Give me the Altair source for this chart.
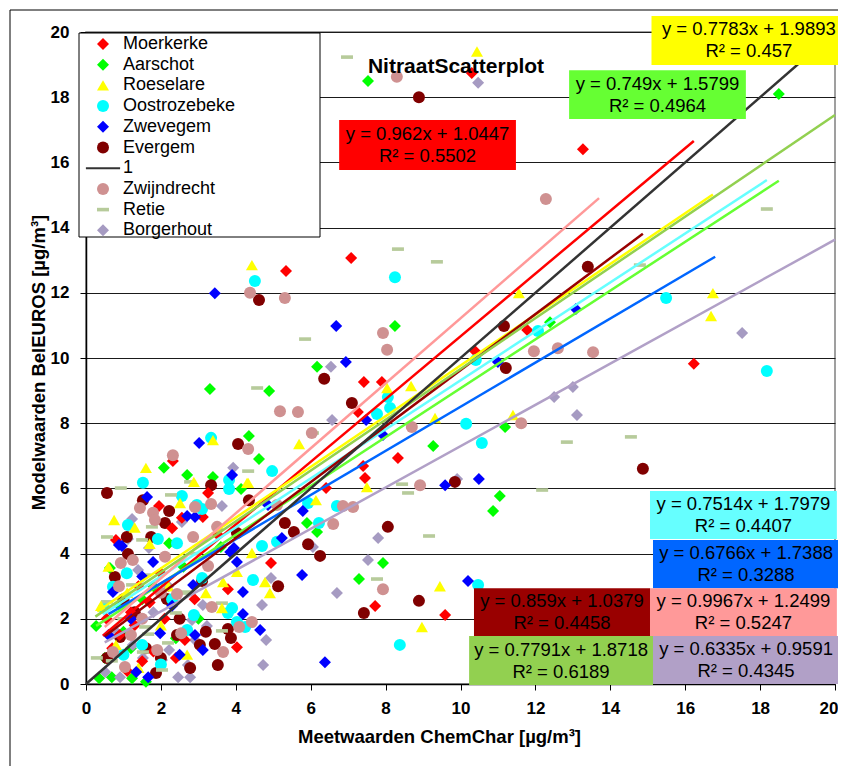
import altair as alt
import pandas as pd

# ---------------- data ----------------
SERIES = ["Moerkerke", "Aarschot", "Roeselare", "Oostrozebeke", "Zwevegem",
          "Evergem", "1", "Zwijndrecht", "Retie", "Borgerhout"]

moerkerke_x = [10.3, 13.27, 7.08, 5.34, 7.42, 7.9, 7.26, 8.33, 11.78, 10.39, 16.23, 9.59, 7.72, 7.4, 7.45,
               6.41, 4.94, 3.79, 4.03, 3.26, 3.12, 2.3, 1.95, 2.32, 0.8, 2.64, 2.56, 0.9, 1.2, 1.5, 1.8,
               2.1, 1.4, 0.7, 2.4, 1.1, 2.9, 1.7, 0.55, 3.5, 2.0, 1.3]
moerkerke_y = [18.74, 16.4, 13.07, 12.67, 9.26, 9.26, 8.34, 6.93, 10.86, 10.21, 9.82, 2.12, 2.39, 6.69, 6.32,
               6.01, 3.71, 2.91, 1.13, 5.86, 5.12, 4.78, 5.46, 6.84, 4.42, 1.35, 5.1, 1.5, 2.2, 0.7, 1.0,
               2.0, 3.0, 1.1, 0.8, 0.4, 2.6, 2.5, 2.0, 4.6, 3.4, 1.8]

aarschot_x = [7.53, 18.5, 8.25, 6.17, 3.31, 4.89, 4.35, 4.62, 9.27, 12.39, 11.19, 11.05, 10.87, 7.93, 7.29,
              6.17, 4.14, 3.39, 2.7, 2.08, 0.64, 0.27, 0.35, 0.69, 1.23, 1.6, 2.22, 5.9, 1.0, 1.5, 2.4,
              0.9, 1.8, 2.6, 3.6, 1.2, 0.5, 3.0]
aarschot_y = [18.5, 18.1, 10.98, 9.73, 9.05, 8.99, 7.61, 6.9, 7.3, 11.1, 7.88, 5.77, 5.31, 3.71, 3.22,
              4.66, 5.98, 6.35, 6.41, 6.63, 3.56, 1.78, 0.18, 0.21, 0.18, 0.07, 4.32, 4.94, 1.6, 2.6, 1.4,
              2.4, 3.0, 3.6, 4.2, 1.1, 0.8, 2.0]

roeselare_x = [10.44, 4.43, 8.68, 8.04, 9.32, 5.69, 3.39, 11.56, 16.74, 16.69, 11.4, 9.45, 8.97, 7.5, 6.14,
               4.3, 4.43, 4.78, 4.91, 4.03, 3.66, 3.2, 3.63, 1.6, 0.75, 2.51, 2.88, 4.33, 1.1, 0.8, 1.4,
               2.0, 2.2, 0.6, 1.7, 2.7, 0.4, 1.3]
roeselare_y = [19.4, 12.85, 9.14, 9.08, 8.16, 7.36, 7.48, 11.99, 11.99, 11.29, 8.25, 3.0, 1.75, 6.04, 5.64,
               6.17, 4.02, 3.13, 2.79, 3.44, 3.13, 2.79, 2.33, 6.63, 5.03, 5.55, 6.2, 6.17, 2.8, 1.2, 0.5,
               1.8, 3.0, 3.6, 4.3, 0.9, 2.4, 4.8]

oostrozebeke_x = [4.51, 8.25, 8.06, 8.12, 7.77, 3.34, 15.49, 18.18, 12.07, 10.41, 10.15, 10.57, 10.47, 8.38,
                  6.7, 6.22, 5.93, 4.97, 4.7, 5.1, 4.46, 3.79, 3.9, 4.03, 3.82, 3.82, 1.52, 2.96, 2.56, 2.43,
                  2.88, 2.7, 0.72, 1.09, 0.48, 1.12, 1.92, 3.1, 4.25, 3.1, 1.5, 2.0, 1.0, 2.3]
oostrozebeke_y = [12.36, 12.48, 8.8, 8.47, 8.28, 7.55, 11.84, 9.6, 10.83, 9.94, 7.98, 7.39, 3.04, 1.2,
                  5.46, 4.94, 5.55, 6.53, 4.23, 4.36, 3.19, 2.18, 2.33, 1.9, 5.98, 6.26, 6.17, 5.49, 5.77, 4.32,
                  2.12, 1.66, 2.98, 3.4, 2.33, 4.88, 4.45, 5.37, 1.75, 3.25, 1.2, 0.6, 0.9, 2.6]

zwevegem_x = [3.44, 6.68, 6.94, 7.48, 7.93, 3.02, 13.08, 11.0, 9.59, 10.49, 10.2, 6.38, 5.79, 5.23, 5.77,
              4.65, 4.19, 4.19, 4.03, 3.95, 3.85, 2.86, 3.9, 1.79, 0.96, 0.72, 1.34, 1.66, 3.12, 1.98,
              2.91, 2.7, 1.63, 0.88, 4.86, 2.91, 16.8, 1.2, 0.6, 2.3, 1.5, 2.5]
zwevegem_y = [11.99, 10.98, 9.88, 8.1, 7.64, 7.39, 11.5, 9.88, 6.1, 6.29, 3.16, 0.67, 5.31, 4.48, 3.34,
              1.66, 2.15, 2.82, 3.74, 4.17, 4.05, 3.04, 6.41, 3.74, 4.23, 2.82, 0.37, 0.21, 1.04, 1.56,
              5.12, 5.15, 5.74, 4.26, 5.49, 1.5, 5.0, 2.0, 1.5, 2.4, 3.3, 0.9]

evergem_x = [8.89, 4.62, 6.36, 7.1, 4.06, 13.4, 11.16, 11.21, 14.87, 9.85, 8.89, 7.42, 8.06, 6.25, 5.93,
             5.55, 5.31, 5.13, 4.35, 3.1, 3.34, 0.56, 3.52, 2.16, 3.87, 3.44, 3.79, 3.2, 2.43, 1.87, 2.78,
             0.77, 1.12, 2.22, 1.52, 1.74, 0.91, 0.56, 2.11, 1.09, 4.03, 3.04, 1.3, 1.6, 2.0, 1.0, 2.5]
evergem_y = [18.0, 11.78, 9.36, 8.62, 7.36, 12.8, 10.98, 9.69, 6.6, 6.2, 2.55, 2.18, 4.82, 3.93, 4.29,
             4.66, 4.94, 3.0, 5.64, 3.16, 6.1, 5.86, 0.58, 2.61, 1.41, 1.23, 1.69, 1.6, 1.5, 0.34, 0.49,
             3.28, 3.99, 5.31, 5.64, 4.51, 1.44, 0.8, 4.94, 4.51, 4.63, 1.2, 2.2, 1.1, 0.8, 2.6, 2.0]

zwijndrecht_x = [8.3, 12.28, 4.38, 5.31, 7.93, 8.04, 5.18, 5.66, 6.03, 8.7, 4.33, 2.32, 11.96, 12.6, 13.54,
                 11.62, 8.92, 7.13, 6.86, 6.6, 7.93, 4.43, 4.09, 3.66, 3.36, 3.34, 2.86, 2.91, 3.5, 3.26,
                 2.43, 2.54, 1.9, 1.04, 0.72, 0.88, 0.93, 1.25, 1.44, 1.79, 1.84, 2.11, 5.1, 1.5, 2.0, 1.2]
zwijndrecht_y = [18.63, 14.88, 12.0, 11.84, 10.77, 10.25, 8.37, 8.34, 7.7, 7.88, 7.21, 7.02, 10.21, 10.3, 10.18,
                 8.0, 6.1, 5.43, 5.46, 4.91, 2.91, 1.9, 1.75, 0.98, 2.36, 5.52, 4.51, 5.43, 4.82, 3.62,
                 2.76, 1.56, 1.04, 0.52, 0.98, 3.0, 3.71, 3.8, 5.4, 5.25, 5.03, 3.9, 5.49, 2.0, 2.8, 1.5]

retie_x = [6.97, 18.18, 9.37, 5.85, 4.57, 6.06, 8.33, 14.79, 12.84, 14.55, 12.18, 9.16, 7.77, 8.6, 8.44,
           4.33, 3.63, 3.63, 2.78, 2.27, 0.93, 0.56, 1.5, 1.76, 0.56, 1.58, 1.66, 1.52, 0.29, 0.69, 2.19,
           2.03, 2.67, 2.4, 1.58, 1.23, 2.64, 1.0, 2.9]
retie_y = [19.23, 14.57, 12.95, 10.58, 9.08, 7.7, 13.34, 12.85, 7.42, 7.58, 5.95, 4.54, 3.22, 5.86, 6.13,
           6.53, 1.63, 2.48, 6.2, 5.8, 6.01, 4.51, 4.42, 4.82, 2.52, 1.75, 1.53, 0.98, 0.8, 0.71, 1.26,
           0.43, 2.82, 2.18, 3.34, 3.04, 2.79, 2.0, 4.0]

borgerhout_x = [10.47, 17.52, 13.0, 12.5, 13.11, 9.91, 6.54, 6.57, 7.8, 7.53, 6.7, 6.06, 4.94, 4.7, 4.81,
                4.73, 3.93, 3.63, 3.12, 3.23, 2.83, 2.91, 2.78, 2.46, 2.22, 2.03, 1.52, 1.25, 0.91, 0.51,
                1.39, 1.23, 1.12, 2.56, 1.68, 2.72, 1.8, 2.2, 0.8]
borgerhout_y = [18.44, 10.77, 9.11, 8.8, 8.25, 6.29, 9.73, 8.1, 4.48, 3.8, 2.79, 4.2, 3.25, 2.42, 1.35,
                0.58, 6.63, 5.46, 2.42, 1.78, 1.96, 1.35, 0.21, 0.21, 1.04, 0.74, 0.8, 1.2, 0.21, 0.37,
                3.5, 5.06, 4.45, 4.97, 4.17, 0.58, 2.2, 3.0, 1.6]

# trendlines (series order as drawn), equation coefficients and visible x-range
trend_series = ["Moerkerke", "Aarschot", "Roeselare", "Oostrozebeke", "Zwevegem",
                "Evergem", "Zwijndrecht", "Retie", "Borgerhout", "1"]
trend_slope = [0.962, 0.749, 0.7783, 0.7514, 0.6766, 0.859, 0.9967, 0.7791, 0.6335, 1.0]
trend_icpt = [1.0447, 1.5799, 1.9893, 1.7979, 1.7388, 1.0379, 1.2499, 1.8718, 0.9591, 0.0]
trend_r2 = ["0.5502", "0.4964", "0.457", "0.4407", "0.3288", "0.4458", "0.5247", "0.6189", "0.4345", ""]
trend_x_start = [0.45, 0.27, 0.3, 0.45, 0.6, 0.5, 0.5, 0.25, 0.5, 0.0]
trend_x_end = [16.23, 18.5, 16.74, 18.18, 16.8, 14.87, 13.7, 20.0, 20.0, 20.0]

TITLE = "NitraatScatterplot"
X_TITLE = "Meetwaarden ChemChar [µg/m³]"
Y_TITLE = "Modelwaarden BelEUROS [µg/m³]"

# ---------------- styles / layout ----------------
marker_fill = ["#ff0000", "#00ff00", "#ffff00", "#00ffff", "#0000ff",
               "#800000", "#333333", "#cf9191", "#b7cb9b", "#a69bc2"]
marker_shape = ["diamond", "diamond", "triangle-up", "circle", "diamond", "circle",
                "M-2.85,-0.17L2.85,-0.17L2.85,0.17L-2.85,0.17Z", "circle",
                "M-1,-0.3L1,-0.3L1,0.3L-1,0.3Z", "diamond"]
marker_size = [144, 144, 121, 169, 100, 121, 144, 144, 169, 169]
line_color = ["#ff0000", "#66ff33", "#ffff00", "#66ffff", "#0066ff",
              "#990000", "#ff9999", "#92d050", "#b1a0c7", "#333333"]

# equation label boxes (data units): x1, x2, y1, y2 per trend series (not for "1")
box_x1 = [6.76, 12.9, 15.1, 15.06, 15.14, 10.36, 15.06, 10.23, 15.14]
box_x2 = [11.48, 17.62, 20.3, 20.05, 20.11, 15.06, 20.05, 15.14, 20.11]
box_y1 = [15.77, 17.33, 18.99, 4.45, 2.94, 1.47, 1.47, -0.03, 0.0]
box_y2 = [17.30, 18.83, 20.49, 5.92, 4.42, 2.94, 2.94, 1.47, 1.47]
box_fill = ["#ff0000", "#66ff33", "#ffff00", "#66ffff", "#0066ff",
            "#990000", "#ff9999", "#92d050", "#b1a0c7"]

FONT = "Liberation Sans"

# ---------------- build tables ----------------
point_lists = {
    "Moerkerke": (moerkerke_x, moerkerke_y),
    "Aarschot": (aarschot_x, aarschot_y),
    "Roeselare": (roeselare_x, roeselare_y),
    "Oostrozebeke": (oostrozebeke_x, oostrozebeke_y),
    "Zwevegem": (zwevegem_x, zwevegem_y),
    "Evergem": (evergem_x, evergem_y),
    "Zwijndrecht": (zwijndrecht_x, zwijndrecht_y),
    "Retie": (retie_x, retie_y),
    "Borgerhout": (borgerhout_x, borgerhout_y),
}
rows = []
for name, (xs, ys) in point_lists.items():
    for xv, yv in zip(xs, ys):
        rows.append({"series": name, "x": xv, "y": yv})
points = pd.DataFrame(rows)

trend_rows = []
for s, a, b, x0, x1 in zip(trend_series, trend_slope, trend_icpt, trend_x_start, trend_x_end):
    for xv in (x0, x1):
        trend_rows.append({"trend": s, "x": xv, "y": a * xv + b})
trends = pd.DataFrame(trend_rows)

label_rows = []
for i in range(9):
    s, a, b, r2 = trend_series[i], trend_slope[i], trend_icpt[i], trend_r2[i]
    label_rows.append({
        "trend": s,
        "x1": box_x1[i], "x2": box_x2[i], "y1": box_y1[i], "y2": box_y2[i],
        "cx": (box_x1[i] + box_x2[i]) / 2, "cy": (box_y1[i] + box_y2[i]) / 2,
        "boxcolor": box_fill[i],
        "label": f"y = {a}x + {b}\nR² = {r2}",
    })
labels = pd.DataFrame(label_rows)

# ---------------- chart ----------------
xscale = alt.Scale(domain=[0, 20], nice=False, zero=False)
yscale = alt.Scale(domain=[0, 20], nice=False, zero=False)
ticks = list(range(0, 21, 2))

legend = alt.Legend(title=None, orient="none", legendX=8, legendY=3,
                    labelFont=FONT, labelFontSize=18, labelColor="black",
                    symbolStrokeWidth=0, rowPadding=2.7, labelOffset=11, padding=0,
                    symbolOpacity=1)

x_axis = alt.Axis(values=ticks, title=X_TITLE, grid=False, tickSize=6, tickColor="black",
                  domainColor="black", domainWidth=1.5, labelFont=FONT, labelFontSize=17,
                  labelFontWeight="bold", labelColor="black", labelPadding=10, labelFlush=False,
                  labelAlign={"condition": {"test": "datum.value == 20", "value": "right"},
                              "value": "center"},
                  labelOffset={"condition": {"test": "datum.value == 20", "value": 3},
                               "value": 0},
                  titleFont=FONT, titleFontSize=18.5, titleFontWeight="bold", titleColor="black",
                  titlePadding=11, titleX=353)
y_axis = alt.Axis(values=ticks, title=Y_TITLE, grid=True, gridColor="#1a1a1a", gridWidth=1.1,
                  tickSize=6, tickColor="black", domainColor="black", domainWidth=1.5,
                  labelFont=FONT, labelFontSize=17, labelFontWeight="bold", labelColor="black",
                  labelPadding=11, labelFlush=False, titleFont=FONT, titleFontSize=18.5,
                  titleFontWeight="bold", titleColor="black", titlePadding=2, titleY=330)

frame = alt.Chart(pd.DataFrame({"k": [0]})).mark_rect(
    fill="transparent", stroke="black", strokeWidth=1
).encode(x=alt.value(-76), x2=alt.value(900), y=alt.value(-22), y2=alt.value(900))

pts = alt.Chart(points).mark_point(filled=True, opacity=1, strokeWidth=0).encode(
    x=alt.X("x:Q", scale=xscale, axis=x_axis),
    y=alt.Y("y:Q", scale=yscale, axis=y_axis),
    fill=alt.Fill("series:N", scale=alt.Scale(domain=SERIES, range=marker_fill), legend=legend),
    shape=alt.Shape("series:N", scale=alt.Scale(domain=SERIES, range=marker_shape), legend=legend),
    size=alt.Size("series:N", scale=alt.Scale(domain=SERIES, range=marker_size), legend=legend),
    order=alt.Order("series:N"),
)

lines = alt.Chart(trends).mark_line(strokeWidth=2.5).encode(
    x=alt.X("x:Q", scale=xscale),
    y=alt.Y("y:Q", scale=yscale),
    stroke=alt.Stroke("trend:N", scale=alt.Scale(domain=trend_series, range=line_color), legend=None),
    detail="trend:N",
)

boxes = alt.Chart(labels).mark_rect().encode(
    x=alt.X("x1:Q", scale=xscale), x2="x2:Q",
    y=alt.Y("y1:Q", scale=yscale), y2="y2:Q",
    color=alt.Color("boxcolor:N", scale=None, legend=None),
)

box_text = alt.Chart(labels).mark_text(
    font=FONT, fontSize=18.5, color="black", align="center", baseline="middle",
    lineBreak="\n", lineHeight=22, dy=-11
).encode(
    x=alt.X("cx:Q", scale=xscale),
    y=alt.Y("cy:Q", scale=yscale),
    text="label:N",
)

legend_box = alt.Chart(pd.DataFrame({"k": [0]})).mark_rect(
    fill="white", stroke="black", strokeWidth=1
).encode(x=alt.value(-7), x2=alt.value(234), y=alt.value(1), y2=alt.value(205))

title = alt.Chart(pd.DataFrame({"t": [TITLE]})).mark_text(
    font=FONT, fontSize=21, fontWeight="bold", color="black", align="center", baseline="alphabetic"
).encode(x=alt.value(370), y=alt.value(41), text="t:N")

chart = alt.layer(frame, pts, lines, boxes, box_text, legend_box, title).properties(
    width=749, height=652,
    autosize=alt.AutoSizeParams(type="none"),
    padding={"left": 78, "top": 24, "right": 3, "bottom": 82},
    background="white",
).configure_view(stroke="#808080", strokeWidth=1.5)

chart.save("out.html", embed_options={"renderer": "svg", "actions": False})
